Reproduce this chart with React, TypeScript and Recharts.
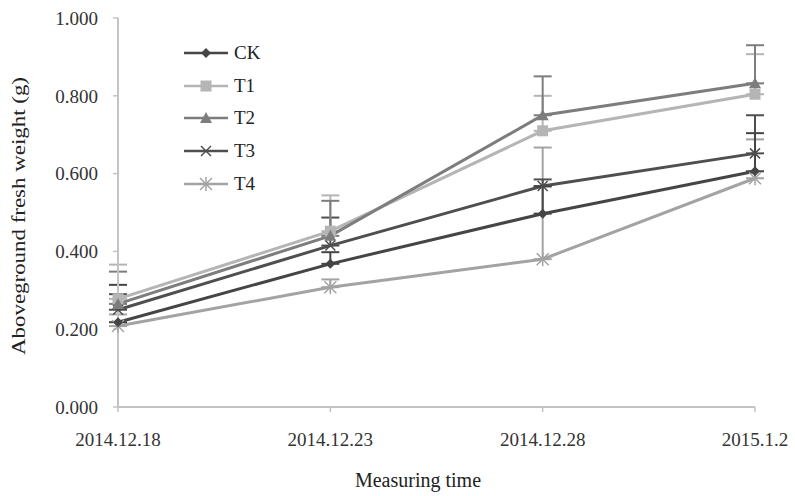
import React from "react";
import { LineChart, Line, XAxis, YAxis, ErrorBar } from "recharts";

// Sampling dates
const dates = ["2014.12.18", "2014.12.23", "2014.12.28", "2015.1.2"];

// Mean aboveground fresh weight (g) per treatment
const ck = [0.218, 0.368, 0.497, 0.606];
const t1 = [0.278, 0.452, 0.71, 0.804];
const t2 = [0.265, 0.44, 0.75, 0.832];
const t3 = [0.25, 0.415, 0.568, 0.652];
const t4 = [0.208, 0.308, 0.38, 0.588];

// Upper error (standard deviation) per treatment
const ckErr = [0.096, 0.03, 0.07, 0.098];
const t1Err = [0.088, 0.092, 0.09, 0.103];
const t2Err = [0.083, 0.09, 0.1, 0.098];
const t3Err = [0.04, 0.072, 0.017, 0.098];
const t4Err = [0.03, 0.02, 0.287, 0.1];

const yTicks = [0, 0.2, 0.4, 0.6, 0.8, 1.0];

type Shape = "diamond" | "square" | "triangle" | "cross" | "star";

const series: { key: string; name: string; values: number[]; errs: number[]; color: string; shape: Shape }[] = [
  { key: "t4", name: "T4", values: t4, errs: t4Err, color: "#a3a3a3", shape: "star" },
  { key: "t3", name: "T3", values: t3, errs: t3Err, color: "#4f4f4f", shape: "cross" },
  { key: "ck", name: "CK", values: ck, errs: ckErr, color: "#454545", shape: "diamond" },
  { key: "t1", name: "T1", values: t1, errs: t1Err, color: "#b5b5b5", shape: "square" },
  { key: "t2", name: "T2", values: t2, errs: t2Err, color: "#7d7d7d", shape: "triangle" },
];

const legendOrder = ["ck", "t1", "t2", "t3", "t4"];

const data = dates.map((d, i) => {
  const row: Record<string, unknown> = { date: d };
  series.forEach((s) => {
    row[s.key] = s.values[i];
    row[s.key + "Err"] = [0, s.errs[i]];
  });
  return row;
});

const FONT = '"Liberation Serif", "Times New Roman", serif';

function Marker({ shape, cx, cy, color }: { shape: Shape; cx: number; cy: number; color: string }) {
  switch (shape) {
    case "diamond":
      return <polygon points={`${cx},${cy - 5} ${cx + 5},${cy} ${cx},${cy + 5} ${cx - 5},${cy}`} fill={color} />;
    case "square":
      return <rect x={cx - 5.5} y={cy - 5.5} width={11} height={11} fill={color} />;
    case "triangle":
      return <polygon points={`${cx},${cy - 6} ${cx + 6},${cy + 5} ${cx - 6},${cy + 5}`} fill={color} />;
    case "cross":
      return (
        <g stroke={color} strokeWidth={1.5}>
          <line x1={cx - 5} y1={cy - 5} x2={cx + 5} y2={cy + 5} />
          <line x1={cx - 5} y1={cy + 5} x2={cx + 5} y2={cy - 5} />
        </g>
      );
    case "star":
      return (
        <g stroke={color} strokeWidth={1.5}>
          <line x1={cx - 6} y1={cy - 6} x2={cx + 6} y2={cy + 6} />
          <line x1={cx - 6} y1={cy + 6} x2={cx + 6} y2={cy - 6} />
          <line x1={cx} y1={cy - 7} x2={cx} y2={cy + 7} />
        </g>
      );
  }
  return null;
}

function SeriesLegend() {
  return (
    <div style={{ position: "absolute", left: 184, top: 37, fontFamily: FONT, fontSize: 19, color: "#222" }}>
      {legendOrder.map((k) => {
        const s = series.find((x) => x.key === k)!;
        return (
          <div key={k} style={{ display: "flex", alignItems: "center", height: 32.6 }}>
            <svg width={46} height={16} style={{ marginRight: 4 }}>
              <line x1={0} y1={8} x2={44} y2={8} stroke={s.color} strokeWidth={2.5} />
              <Marker shape={s.shape} cx={22} cy={8} color={s.color} />
            </svg>
            <span>{s.name}</span>
          </div>
        );
      })}
    </div>
  );
}

export default function App() {
  return (
    <div style={{ position: "absolute", left: 0, top: 0, width: 795, height: 496, background: "#fff" }}>
      <LineChart width={795} height={496} data={data} margin={{ top: 18, right: 40, bottom: 0, left: 0 }}>
        <XAxis
          dataKey="date"
          height={89}
          tickSize={5}
          tickMargin={21}
          axisLine={{ stroke: "#c4c4c4", strokeWidth: 2 }}
          tickLine={{ stroke: "#c4c4c4", strokeWidth: 1.5 }}
          tick={{ fill: "#333", fontSize: 19, fontFamily: FONT }}
          interval={0}
        />
        <YAxis
          width={118}
          domain={[0, 1]}
          ticks={yTicks}
          tickFormatter={(v: number) => v.toFixed(3)}
          tickSize={5}
          tickMargin={15}
          axisLine={{ stroke: "#c4c4c4", strokeWidth: 2 }}
          tickLine={{ stroke: "#c4c4c4", strokeWidth: 1.5 }}
          tick={{ fill: "#333", fontSize: 19, fontFamily: FONT }}
        />
        {series.map((s) => (
          <Line
            key={s.key}
            dataKey={s.key}
            name={s.name}
            stroke={s.color}
            strokeWidth={3}
            isAnimationActive={false}
            dot={(p: any) => <Marker key={`${s.key}-${p.index}`} shape={s.shape} cx={p.cx} cy={p.cy} color={s.color} />}
            activeDot={false}
          >
            <ErrorBar dataKey={s.key + "Err"} direction="y" width={9} strokeWidth={2} stroke={s.color} />
          </Line>
        ))}
        <text x={418} y={487} textAnchor="middle" fontFamily={FONT} fontSize={20} fill="#222">
          Measuring time
        </text>
        <text
          x={25}
          y={216}
          textAnchor="middle"
          fontFamily={FONT}
          fontSize={19}
          fill="#222"
          textLength={278}
          lengthAdjust="spacingAndGlyphs"
          transform="rotate(-90 25 216)"
        >
          Aboveground fresh weight (g)
        </text>
      </LineChart>
      <SeriesLegend />
    </div>
  );
}
